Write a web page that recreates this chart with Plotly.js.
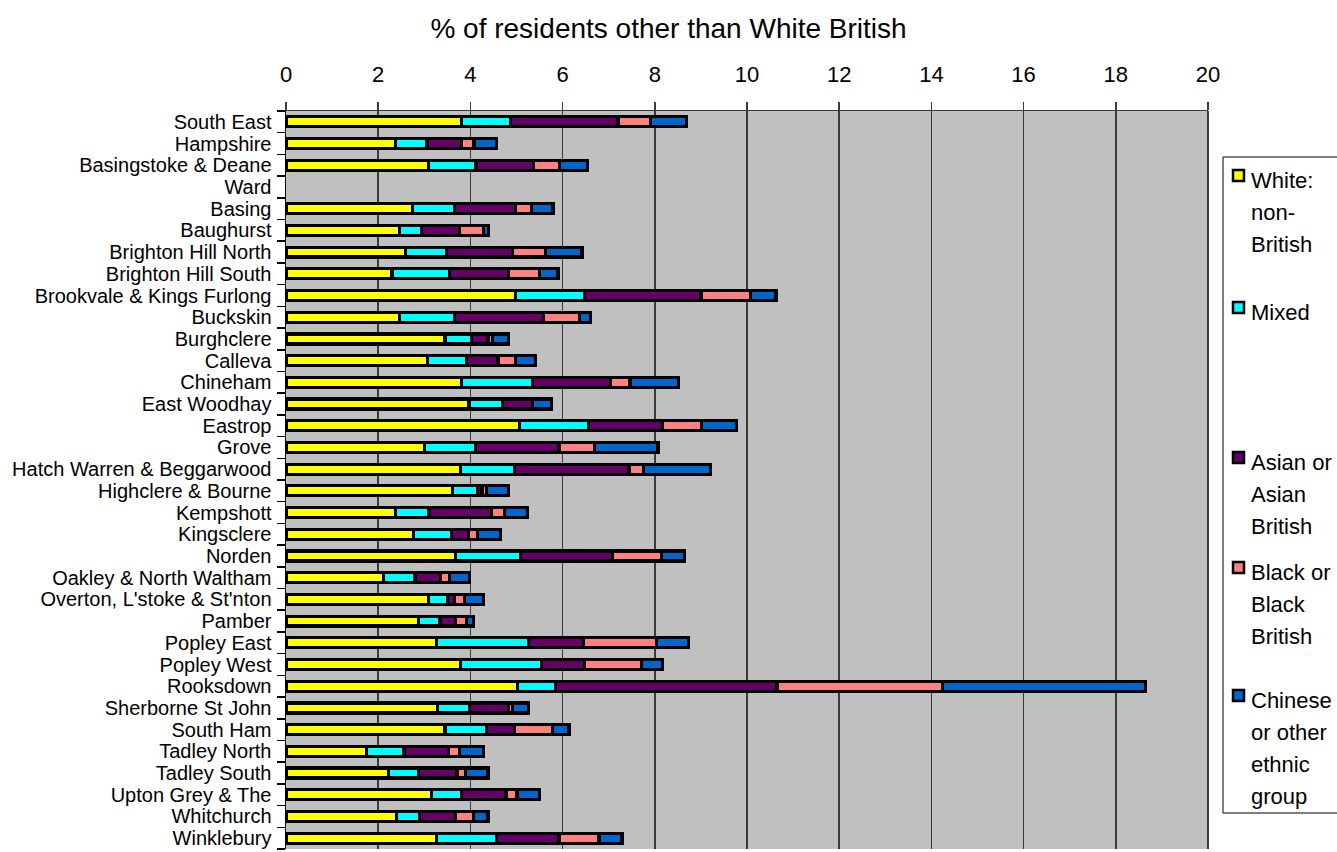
<!DOCTYPE html>
<html>
<head>
<meta charset="utf-8">
<script src="https://cdn.plot.ly/plotly-3.0.1.min.js"></script>
<style>
html,body{margin:0;padding:0;background:#fff;}
#chart{width:1337px;height:852px;}
</style>
</head>
<body>
<div id="chart"></div>
<script>
const categories = ["South East","Hampshire","Basingstoke & Deane","Ward","Basing","Baughurst","Brighton Hill North","Brighton Hill South","Brookvale & Kings Furlong","Buckskin","Burghclere","Calleva","Chineham","East Woodhay","Eastrop","Grove","Hatch Warren & Beggarwood","Highclere & Bourne","Kempshott","Kingsclere","Norden","Oakley & North Waltham","Overton, L'stoke & St'nton","Pamber","Popley East","Popley West","Rooksdown","Sherborne St John","South Ham","Tadley North","Tadley South","Upton Grey & The","Whitchurch","Winklebury"];

const whiteNonBritish = [3.80,2.37,3.09,null,2.74,2.46,2.59,2.30,4.98,2.46,3.45,3.07,3.80,3.97,5.06,3.01,3.79,3.62,2.38,2.76,3.68,2.11,3.09,2.88,3.26,3.78,5.03,3.29,3.45,1.75,2.22,3.15,2.40,3.26];
const mixed = [1.07,0.69,1.03,null,0.91,0.48,0.89,1.25,1.50,1.20,0.57,0.85,1.55,0.72,1.51,1.10,1.17,0.54,0.72,0.83,1.40,0.69,0.42,0.46,2.00,1.77,0.81,0.69,0.90,0.81,0.66,0.65,0.49,1.31];
const asianOrAsianBritish = [2.33,0.74,1.24,null,1.33,0.82,1.44,1.28,2.52,1.93,0.36,0.68,1.69,0.65,1.59,1.81,2.48,0.09,1.35,0.36,2.00,0.55,0.14,0.34,1.19,0.92,4.81,0.85,0.61,0.97,0.83,0.97,0.79,1.35];
const blackOrBlackBritish = [0.71,0.28,0.57,null,0.35,0.53,0.71,0.67,1.08,0.78,0.10,0.38,0.42,0.00,0.86,0.77,0.32,0.10,0.29,0.20,1.07,0.20,0.22,0.23,1.58,1.24,3.59,0.08,0.82,0.23,0.18,0.24,0.39,0.87];
const chineseOrOther = [0.78,0.49,0.61,null,0.46,0.11,0.79,0.40,0.55,0.23,0.34,0.44,1.06,0.42,0.76,1.38,1.45,0.48,0.50,0.51,0.50,0.43,0.41,0.15,0.70,0.45,4.40,0.35,0.36,0.53,0.49,0.49,0.31,0.50];

const seriesNames = ["White: non-British","Mixed","Asian or Asian British","Black or Black British","Chinese or other ethnic group"];
const legendLabels = [["White:","non-","British"],["Mixed"],["Asian or","Asian","British"],["Black or","Black","British"],["Chinese","or other","ethnic","group"]];
const seriesColors = ["#FFFF00","#00FFFF","#660066","#FF8080","#0066CC"];
const seriesValues = [whiteNonBritish, mixed, asianOrAsianBritish, blackOrBlackBritish, chineseOrOther];

const titleText = "% of residents other than White British";
const xTickValues = [0,2,4,6,8,10,12,14,16,18,20];

const FONT = "Liberation Sans, Arial, sans-serif";

// plot area in pixels
const W = 1337, H = 852;
const L = 286, R = 1208, T = 111, B = 849;
const pw = R - L, ph = B - T;
const px2x = p => (p - L) / pw;
const py2y = p => (B - p) / ph;

const traces = seriesValues.map((vals, i) => ({
  type: "bar",
  orientation: "h",
  name: seriesNames[i],
  y: categories,
  x: vals,
  width: 0.46,
  marker: {color: seriesColors[i], line: {color: "#000000", width: 3.2}},
  showlegend: false,
  hoverinfo: "x+y+name"
}));

// legend built from series names / colors
const legendFirstLineCenters = [180, 312, 462, 572, 700];
const LINE = 32.3;
const annotations = [];
const shapes = [];
shapes.push({type: "rect", xref: "paper", yref: "paper",
  x0: px2x(1223), x1: px2x(1345), y0: py2y(813), y1: py2y(157),
  line: {color: "#000", width: 1}, fillcolor: "rgba(0,0,0,0)"});
legendLabels.forEach((lines, i) => {
  const c = legendFirstLineCenters[i];
  lines.forEach((ln, k) => {
    annotations.push({xref: "paper", yref: "paper", x: px2x(1250), y: py2y(c + k * LINE),
      xanchor: "left", yanchor: "middle", align: "left", showarrow: false,
      text: ln, font: {family: FONT, size: 22, color: "#000"}, borderpad: 0});
  });
  shapes.push({type: "rect", xref: "paper", yref: "paper",
    x0: px2x(1233), x1: px2x(1244), y0: py2y(c + 1), y1: py2y(c - 10),
    line: {color: "#000", width: 2.5}, fillcolor: seriesColors[i]});
});

const layout = {
  width: W, height: H,
  margin: {l: L, r: W - R, t: T, b: H - B, pad: 0},
  paper_bgcolor: "#ffffff",
  plot_bgcolor: "#C0C0C0",
  barmode: "stack",
  showlegend: false,
  title: {text: titleText, x: 0.5, xref: "container", xanchor: "center", y: 1 - 28/H, yanchor: "middle",
    font: {family: FONT, size: 28, color: "#000"}},
  xaxis: {
    side: "top", range: [0, 20], tickmode: "array", tickvals: xTickValues, ticktext: xTickValues.map(String),
    showgrid: true, gridcolor: "#3a3a3a", gridwidth: 1.5, zeroline: false,
    showline: true, linecolor: "#3a3a3a", linewidth: 1.5,
    ticks: "outside", ticklen: 8, tickcolor: "#3a3a3a", tickwidth: 1.5,
    ticklabelstandoff: 11,
    tickfont: {family: FONT, size: 22, color: "#000"}, fixedrange: true
  },
  yaxis: {
    type: "category", autorange: "reversed", categoryorder: "array", categoryarray: categories,
    tickmode: "array", tickvals: categories, ticktext: categories,
    showgrid: false, zeroline: false,
    showline: true, linecolor: "#000", linewidth: 1.5, mirror: false,
    ticks: "outside", ticklen: 8, tickcolor: "#000", tickwidth: 1.5, tickson: "boundaries",
    ticklabelstandoff: 9,
    tickfont: {family: FONT, size: 20, color: "#000"}, fixedrange: true
  },
  shapes: shapes.concat([{type: "line", xref: "paper", yref: "paper", x0: 1, x1: 1, y0: 0, y1: 1,
    line: {color: "#3a3a3a", width: 2}}]),
  annotations: annotations
};

Plotly.newPlot("chart", traces, layout, {displayModeBar: false, staticPlot: true});
</script>
</body>
</html>
